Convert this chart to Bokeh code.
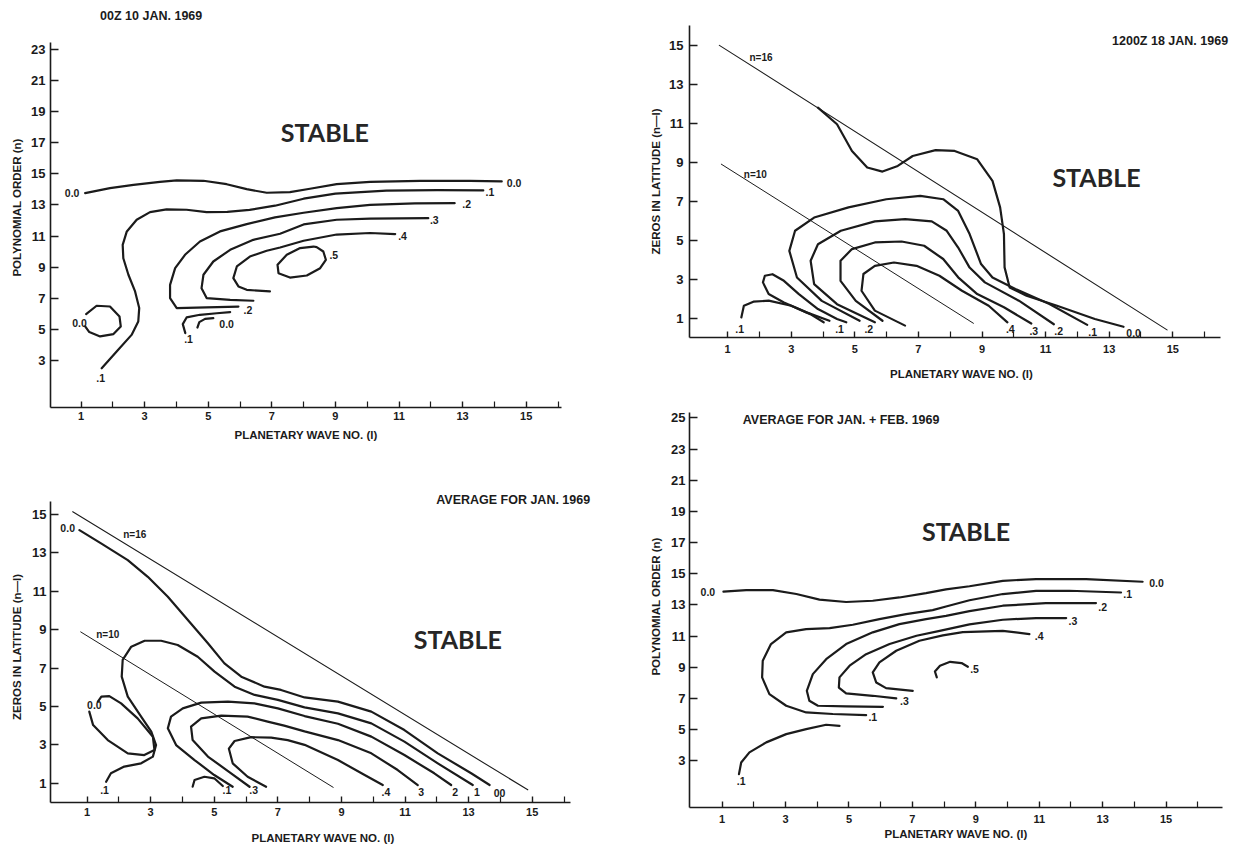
from bokeh.plotting import figure
from bokeh.layouts import row, column
from bokeh.models import FixedTicker, Label, Range1d, ColumnDataSource
from bokeh.embed import file_html
from bokeh.resources import INLINE
from bokeh.core.properties import value

INK = "#1b1b1b"
FONT = "Liberation Sans"
STABLE_FONT = "Lato"

X_TICKS = [1, 3, 5, 7, 9, 11, 13, 15]
X_MINOR = [2, 4, 6, 8, 10, 12, 14, 16]
Y_TICKS_N = [3, 5, 7, 9, 11, 13, 15, 17, 19, 21, 23]
Y_TICKS_N4 = [3, 5, 7, 9, 11, 13, 15, 17, 19, 21, 23, 25]
Y_TICKS_Z = [1, 3, 5, 7, 9, 11, 13, 15]

# ---------------- Panel 1: 00Z 10 JAN. 1969 ----------------
P1_00_X = [1.13, 1.91, 2.65, 3.48, 4.01, 4.85, 5.58, 6.21, 6.84, 7.57, 8.20, 9.04, 10.09, 11.66, 13.24, 14.23]
P1_00_Y = [13.76, 14.08, 14.29, 14.48, 14.57, 14.55, 14.33, 14.01, 13.78, 13.82, 14.04, 14.33, 14.48, 14.55, 14.55, 14.51]
P1_01_X = [1.65, 2.12, 2.59, 2.80, 2.83, 2.70, 2.49, 2.33, 2.31, 2.44, 2.75, 3.17, 3.69, 4.32, 4.95, 5.6, 6.3, 7.1, 8.0, 9.0, 10.6, 12.2, 13.65]
P1_01_Y = [2.52, 3.59, 4.66, 5.52, 6.38, 7.45, 8.52, 9.58, 10.44, 11.30, 12.05, 12.54, 12.71, 12.69, 12.54, 12.55, 12.68, 12.95, 13.4, 13.72, 13.92, 13.95, 13.93]
P1_02_X = [5.95, 4.95, 4.01, 3.80, 3.80, 3.96, 4.27, 4.74, 5.37, 6.21, 7.1, 8.0, 9.04, 10.09, 11.5, 12.75]
P1_02_Y = [6.48, 6.42, 6.38, 7.02, 7.87, 8.94, 9.80, 10.65, 11.30, 11.77, 12.2, 12.5, 12.8, 13.0, 13.1, 13.11]
P1_03_X = [6.42, 5.69, 4.95, 4.79, 4.85, 5.16, 5.69, 6.42, 7.26, 8.0, 9.04, 10.09, 11.92]
P1_03_Y = [6.85, 6.91, 7.02, 7.66, 8.52, 9.37, 10.12, 10.76, 11.15, 11.75, 12.05, 12.12, 12.15]
P1_04_X = [6.94, 6.21, 5.95, 5.79, 5.90, 6.31, 6.84, 7.26, 8.0, 9.04, 10.09, 10.88]
P1_04_Y = [7.45, 7.55, 7.77, 8.30, 9.05, 9.69, 10.06, 10.27, 10.7, 11.1, 11.2, 11.13]
P1_05_X = [8.31, 7.89, 7.47, 7.18, 7.21, 7.57, 8.10, 8.52, 8.70, 8.62, 8.41, 8.31]
P1_05_Y = [10.33, 10.23, 9.80, 9.16, 8.62, 8.34, 8.47, 8.94, 9.48, 10.01, 10.29, 10.33]
P1_LOOP_X = [1.16, 1.49, 1.91, 2.21, 2.25, 2.02, 1.60, 1.26, 1.13]
P1_LOOP_Y = [5.99, 6.53, 6.48, 5.84, 5.20, 4.71, 4.56, 4.84, 5.20]
P1_HOOK1_X = [4.28, 4.20, 4.32, 4.74, 5.27, 5.69]
P1_HOOK1_Y = [4.77, 5.35, 5.78, 5.95, 6.05, 6.12]
P1_HOOK0_X = [4.66, 4.72, 4.90, 5.16]
P1_HOOK0_Y = [5.13, 5.48, 5.69, 5.73]
P1_LBL_T = ["0.0", "0.0", ".1", ".2", ".3", ".4", ".5", "0.0", ".2", ".1", "0.0", ".1"]
P1_LBL_X = [0.72, 14.62, 13.86, 13.13, 12.11, 11.11, 8.95, 0.95, 6.25, 4.38, 5.58, 1.62]
P1_LBL_Y = [13.76, 14.42, 13.80, 13.07, 12.05, 11.02, 9.80, 5.41, 6.27, 4.41, 5.35, 1.88]

# ---------------- Panel 2: 1200Z 18 JAN. 1969 ----------------
P2_N16_X = [0.74, 14.82]
P2_N16_Y = [15.0, 0.39]
P2_N10_X = [0.80, 8.73]
P2_N10_Y = [8.9, 0.73]
P2_00_X = [3.84, 4.44, 4.91, 5.39, 5.87, 6.35, 6.82, 7.54, 8.14, 8.85, 9.33, 9.57, 9.69, 9.71, 9.87, 10.40, 11.36, 12.55, 13.45]
P2_00_Y = [11.8, 10.95, 9.58, 8.73, 8.52, 8.81, 9.32, 9.62, 9.58, 9.15, 8.04, 6.68, 5.31, 3.60, 2.57, 2.14, 1.63, 0.95, 0.55]
P2_01_X = [5.15, 3.96, 3.18, 2.94, 3.12, 3.72, 4.80, 5.99, 7.06, 7.78, 8.25, 8.61, 8.97, 9.33, 10.05, 11.12, 12.31]
P2_01_Y = [0.86, 1.88, 3.08, 4.45, 5.48, 6.16, 6.68, 7.10, 7.27, 7.10, 6.50, 5.31, 3.77, 3.08, 2.49, 1.72, 0.65]
P2_02_X = [5.63, 4.44, 3.72, 3.61, 3.84, 4.56, 5.63, 6.58, 7.42, 7.89, 8.25, 8.61, 9.09, 10.16, 11.26]
P2_02_Y = [0.78, 1.71, 2.74, 3.94, 4.79, 5.48, 5.96, 6.08, 5.96, 5.48, 4.62, 3.59, 2.83, 1.89, 0.68]
P2_03_X = [5.87, 5.03, 4.55, 4.55, 4.91, 5.63, 6.47, 7.18, 7.78, 8.25, 8.85, 9.69, 10.55]
P2_03_Y = [0.86, 1.88, 2.91, 3.94, 4.54, 4.88, 4.93, 4.71, 4.03, 3.09, 2.23, 1.55, 0.72]
P2_04_X = [6.58, 5.63, 5.21, 5.27, 5.63, 6.23, 6.94, 7.66, 8.37, 9.21, 9.80]
P2_04_Y = [0.61, 1.38, 2.40, 3.26, 3.68, 3.85, 3.68, 3.17, 2.40, 1.63, 0.78]
P2_HOOK_X = [1.43, 1.51, 1.81, 2.29, 3.0, 3.6, 4.02]
P2_HOOK_Y = [1.03, 1.63, 1.84, 1.89, 1.63, 1.20, 0.78]
P2_DROP_X = [4.73, 4.44, 3.84, 3.24, 2.77, 2.41, 2.17, 2.11, 2.29, 2.77, 3.48, 4.2]
P2_DROP_Y = [0.78, 0.95, 1.46, 2.23, 2.91, 3.25, 3.17, 2.83, 2.23, 1.80, 1.29, 0.86]
P2_LBL_T = [".1", ".1", ".2", ".4", ".3", ".2", ".1", "0.0"]
P2_LBL_X = [1.38, 4.52, 5.44, 9.89, 10.63, 11.41, 12.48, 13.77]
P2_LBL_Y = [0.43, 0.43, 0.43, 0.43, 0.35, 0.35, 0.28, 0.22]
P2_NL_T = ["n=16", "n=10"]
P2_NL_X = [2.05, 1.87]
P2_NL_Y = [14.36, 8.38]

# ---------------- Panel 3: AVERAGE FOR JAN. 1969 ----------------
P3_N16_X = [0.55, 14.86]
P3_N16_Y = [15.14, 0.66]
P3_N10_X = [0.80, 8.74]
P3_N10_Y = [8.88, 0.79]
P3_00_X = [0.76, 1.44, 2.28, 2.91, 3.54, 4.17, 4.80, 5.32, 5.85, 6.58, 7.10, 7.84, 8.89, 9.94, 10.98, 12.03, 13.08, 13.66]
P3_00_Y = [14.18, 13.49, 12.62, 11.75, 10.71, 9.50, 8.29, 7.24, 6.55, 6.03, 5.86, 5.47, 5.25, 4.73, 3.77, 2.56, 1.52, 0.91]
P3_01_X = [1.60, 1.75, 2.17, 2.70, 3.07, 3.17, 3.02, 2.70, 2.28, 2.09, 2.12, 2.39, 2.81, 3.33, 3.85, 4.48, 5.01, 5.64, 6.27, 7.0, 7.84, 8.89, 9.94, 10.98, 12.03, 13.13]
P3_01_Y = [1.08, 1.52, 1.87, 2.04, 2.39, 2.99, 3.69, 4.47, 5.51, 6.55, 7.42, 8.11, 8.42, 8.42, 8.20, 7.59, 6.81, 6.03, 5.60, 5.34, 4.95, 4.64, 4.12, 3.17, 2.04, 0.91]
P3_02_X = [5.58, 5.0, 4.38, 3.80, 3.54, 3.64, 4.01, 4.59, 5.43, 6.26, 7.0, 7.84, 8.89, 9.94, 10.98, 11.92, 12.45]
P3_02_Y = [0.82, 1.43, 2.21, 2.99, 3.86, 4.47, 4.90, 5.20, 5.25, 5.16, 4.9, 4.5, 4.1, 3.43, 2.47, 1.52, 0.91]
P3_03_X = [6.11, 5.53, 4.80, 4.32, 4.27, 4.59, 5.22, 6.05, 6.68, 7.2, 7.84, 8.89, 9.94, 10.77, 11.40]
P3_03_Y = [0.82, 1.52, 2.39, 3.25, 3.95, 4.38, 4.52, 4.47, 4.21, 4.0, 3.7, 3.25, 2.56, 1.69, 0.91]
P3_04_X = [6.63, 6.05, 5.58, 5.46, 5.64, 6.16, 6.79, 7.31, 7.84, 8.89, 9.73, 10.30]
P3_04_Y = [0.82, 1.34, 2.04, 2.8, 3.2, 3.4, 3.38, 3.25, 3.0, 2.21, 1.43, 0.91]
P3_SMALL_X = [4.32, 4.38, 4.69, 5.0, 5.27]
P3_SMALL_Y = [0.82, 1.17, 1.34, 1.26, 0.86]
P3_LOOP_X = [1.07, 1.19, 1.65, 2.28, 2.80, 3.12, 3.07, 2.59, 2.07, 1.70, 1.45, 1.34]
P3_LOOP_Y = [4.73, 4.03, 3.25, 2.56, 2.47, 2.73, 3.42, 4.38, 5.16, 5.54, 5.51, 5.25]
P3_LBL_T = ["0.0", ".1", "0.0", ".1", ".3", ".4", "3", "2", "1", "00"]
P3_LBL_X = [0.39, 1.55, 1.23, 5.40, 6.24, 10.40, 11.51, 12.58, 13.26, 13.97]
P3_LBL_Y = [14.27, 0.65, 5.07, 0.65, 0.65, 0.56, 0.56, 0.56, 0.56, 0.51]
P3_NL_T = ["n=16", "n=10"]
P3_NL_X = [2.5, 1.65]
P3_NL_Y = [13.95, 8.75]

# ---------------- Panel 4: AVERAGE FOR JAN. + FEB. 1969 ----------------
P4_00_X = [1.04, 1.76, 2.60, 3.34, 4.07, 4.91, 5.75, 6.59, 7.43, 8.06, 8.80, 9.85, 10.9, 12.48, 14.26]
P4_00_Y = [13.85, 13.95, 13.95, 13.70, 13.34, 13.19, 13.27, 13.48, 13.76, 14.0, 14.2, 14.55, 14.66, 14.66, 14.49]
P4_01_X = [5.54, 4.49, 3.65, 3.02, 2.49, 2.26, 2.28, 2.54, 3.02, 3.65, 4.39, 5.12, 5.96, 6.80, 7.64, 8.06, 8.8, 9.85, 10.9, 11.95, 13.58]
P4_01_Y = [5.93, 6.0, 6.10, 6.53, 7.28, 8.35, 9.42, 10.49, 11.24, 11.45, 11.51, 11.73, 12.09, 12.41, 12.67, 12.9, 13.3, 13.7, 13.9, 13.91, 13.80]
P4_02_X = [6.07, 4.91, 4.02, 3.75, 3.67, 3.86, 4.28, 4.91, 5.75, 6.59, 7.43, 8.06, 8.80, 9.85, 11.21, 12.79]
P4_02_Y = [6.46, 6.49, 6.53, 6.85, 7.49, 8.56, 9.52, 10.49, 11.24, 11.77, 12.09, 12.3, 12.6, 12.95, 13.12, 13.12]
P4_03_X = [6.49, 5.75, 4.91, 4.68, 4.70, 5.02, 5.54, 6.28, 7.13, 7.86, 8.80, 9.85, 10.9, 11.85]
P4_03_Y = [7.0, 7.17, 7.32, 7.70, 8.35, 9.1, 9.84, 10.49, 11.02, 11.34, 11.75, 12.05, 12.16, 12.16]
P4_04_X = [7.01, 6.17, 5.86, 5.75, 5.96, 6.49, 7.22, 7.96, 8.59, 9.85, 10.69]
P4_04_Y = [7.49, 7.66, 8.02, 8.67, 9.31, 10.06, 10.70, 11.05, 11.25, 11.34, 11.13]
P4_05_X = [7.77, 7.71, 7.87, 8.19, 8.55, 8.75]
P4_05_Y = [8.35, 8.73, 9.10, 9.35, 9.27, 9.03]
P4_LOW_X = [1.53, 1.60, 1.86, 2.39, 3.02, 3.65, 4.28, 4.70]
P4_LOW_Y = [2.14, 2.89, 3.54, 4.18, 4.71, 5.03, 5.31, 5.24]
P4_LBL_T = ["0.0", "0.0", ".1", ".2", ".3", ".4", ".5", ".1", ".3", ".1"]
P4_LBL_X = [0.55, 14.70, 13.79, 13.0, 12.06, 11.0, 8.96, 5.75, 6.75, 1.60]
P4_LBL_Y = [13.8, 14.38, 13.69, 12.88, 11.98, 10.98, 8.92, 5.82, 6.85, 1.71]


def make_panel(fw, fh, xr, yr, xb, yb, yticks, borders, stand, xlabel, ylabel):
    left, right, top, bottom = borders
    p = figure(frame_width=fw, frame_height=fh, x_range=Range1d(*xr), y_range=Range1d(*yr),
               output_backend="svg", toolbar_location=None,
               min_border_left=left, min_border_right=right,
               min_border_top=top, min_border_bottom=bottom)
    p.outline_line_color = None
    p.grid.visible = False
    p.background_fill_color = "white"
    p.border_fill_color = "white"
    p.xaxis.ticker = FixedTicker(ticks=X_TICKS, minor_ticks=X_MINOR)
    p.yaxis.ticker = FixedTicker(ticks=yticks, minor_ticks=[])
    p.xaxis.bounds = xb
    p.yaxis.bounds = yb
    xs, xls, ys, yls = stand
    for ax in (p.xaxis[0], p.yaxis[0]):
        ax.axis_line_color = INK
        ax.axis_line_width = 1.6
        ax.major_tick_line_color = INK
        ax.major_tick_line_width = 1.4
        ax.major_tick_out = 0
        ax.minor_tick_out = 0
        ax.minor_tick_line_color = INK
        ax.minor_tick_line_width = 1.2
        ax.major_label_text_font = FONT
        ax.major_label_text_font_style = "bold"
        ax.major_label_text_color = INK
        ax.axis_label_text_font = FONT
        ax.axis_label_text_font_style = "bold"
        ax.axis_label_text_font_size = "11.5px"
        ax.axis_label_text_color = INK
    xa = p.xaxis[0]
    xa.major_tick_in = 6
    xa.minor_tick_in = 6
    xa.major_label_text_font_size = "11px"
    xa.major_label_standoff = xs
    xa.axis_label_standoff = xls
    xa.axis_label = xlabel
    ya = p.yaxis[0]
    ya.major_tick_in = 8
    ya.minor_tick_in = 0
    ya.minor_tick_line_color = None
    ya.major_label_text_font_size = "13px"
    ya.major_label_standoff = ys
    ya.axis_label_standoff = yls
    ya.axis_label = ylabel
    return p


def curve(p, xs, ys, w=2.2):
    p.line(xs, ys, line_color=INK, line_width=w, line_join="round", line_cap="round")


def labels(p, xs, ys, ts, size="10.5px"):
    src = ColumnDataSource(dict(x=xs, y=ys, t=ts))
    p.text(x="x", y="y", text="t", source=src, text_font=value(FONT), text_font_size=size,
           text_font_style="bold", text_color=INK, text_align="center", text_baseline="middle")


def stable(p, x, y):
    p.add_layout(Label(x=x, y=y, text="STABLE", text_font=STABLE_FONT, text_font_size="25px",
                       text_font_style="bold", text_color="#262626", text_align="center",
                       text_baseline="middle"))


def title(p, x, y, t):
    p.add_layout(Label(x=x, y=y, text=t, text_font=FONT, text_font_size="12.5px",
                       text_font_style="bold", text_color=INK, text_align="left",
                       text_baseline="middle"))


XLAB = "PLANETARY WAVE NO. (l)"

# Panel 1
p1 = make_panel(511, 400, (0.04, 16.11), (0, 25.67), (0.04, 16.11), (0, 23.43), Y_TICKS_N,
                (50, 79, 7, 40), (4, 6, 5, 5), XLAB, "POLYNOMIAL ORDER (n)")
for xs_, ys_ in [(P1_00_X, P1_00_Y), (P1_01_X, P1_01_Y), (P1_02_X, P1_02_Y), (P1_03_X, P1_03_Y),
                 (P1_04_X, P1_04_Y), (P1_05_X, P1_05_Y), (P1_LOOP_X, P1_LOOP_Y),
                 (P1_HOOK1_X, P1_HOOK1_Y), (P1_HOOK0_X, P1_HOOK0_Y)]:
    curve(p1, xs_, ys_)
labels(p1, P1_LBL_X, P1_LBL_Y, P1_LBL_T)
stable(p1, 8.67, 17.7)
title(p1, 1.6, 25.15, "00Z 10 JAN. 1969")

# Panel 2
p2 = make_panel(544, 312, (-0.2, 16.91), (0, 16.02), (-0.2, 16.5), (0, 16.02), Y_TICKS_Z,
                (49, 0, 25, 53), (7, 12, 6, 4), XLAB, "ZEROS IN LATITUDE (n\u2014l)")
curve(p2, P2_N16_X, P2_N16_Y, 1.1)
curve(p2, P2_N10_X, P2_N10_Y, 1.0)
for xs_, ys_ in [(P2_00_X, P2_00_Y), (P2_01_X, P2_01_Y), (P2_02_X, P2_02_Y), (P2_03_X, P2_03_Y),
                 (P2_04_X, P2_04_Y), (P2_HOOK_X, P2_HOOK_Y), (P2_DROP_X, P2_DROP_Y)]:
    curve(p2, xs_, ys_)
labels(p2, P2_LBL_X, P2_LBL_Y, P2_LBL_T)
labels(p2, P2_NL_X, P2_NL_Y, P2_NL_T, "10px")
stable(p2, 12.6, 8.22)
title(p2, 13.09, 15.24, "1200Z 18 JAN. 1969")

# Panel 3
p3 = make_panel(545, 311, (-0.15, 16.99), (0, 16.19), (-0.15, 16.21), (0, 15.67), Y_TICKS_Z,
                (49, 46, 44, 46), (5, 13, 4, 6), XLAB, "ZEROS IN LATITUDE (n\u2014l)")
curve(p3, P3_N16_X, P3_N16_Y, 1.1)
curve(p3, P3_N10_X, P3_N10_Y, 1.0)
for xs_, ys_ in [(P3_00_X, P3_00_Y), (P3_01_X, P3_01_Y), (P3_02_X, P3_02_Y), (P3_03_X, P3_03_Y),
                 (P3_04_X, P3_04_Y), (P3_SMALL_X, P3_SMALL_Y), (P3_LOOP_X, P3_LOOP_Y)]:
    curve(p3, xs_, ys_)
labels(p3, P3_LBL_X, P3_LBL_Y, P3_LBL_T)
labels(p3, P3_NL_X, P3_NL_Y, P3_NL_T, "10px")
stable(p3, 12.66, 8.5)
title(p3, 11.98, 15.75, "AVERAGE FOR JAN. 1969")

# Panel 4
p4 = make_panel(533, 402, (-0.03, 16.78), (0, 25.8), (-0.03, 16.78), (0, 25.35), Y_TICKS_N4,
                (43, 17, 15, 41), (7, 2, 4, 6), XLAB, "POLYNOMIAL ORDER (n)")
for xs_, ys_ in [(P4_00_X, P4_00_Y), (P4_01_X, P4_01_Y), (P4_02_X, P4_02_Y), (P4_03_X, P4_03_Y),
                 (P4_04_X, P4_04_Y), (P4_05_X, P4_05_Y), (P4_LOW_X, P4_LOW_Y)]:
    curve(p4, xs_, ys_)
labels(p4, P4_LBL_X, P4_LBL_Y, P4_LBL_T)
stable(p4, 8.69, 17.76)
title(p4, 1.65, 24.87, "AVERAGE FOR JAN. + FEB. 1969")

layout = row(column(p1, p3), column(p2, p4))
open("out.html", "w").write(file_html(layout, INLINE))
